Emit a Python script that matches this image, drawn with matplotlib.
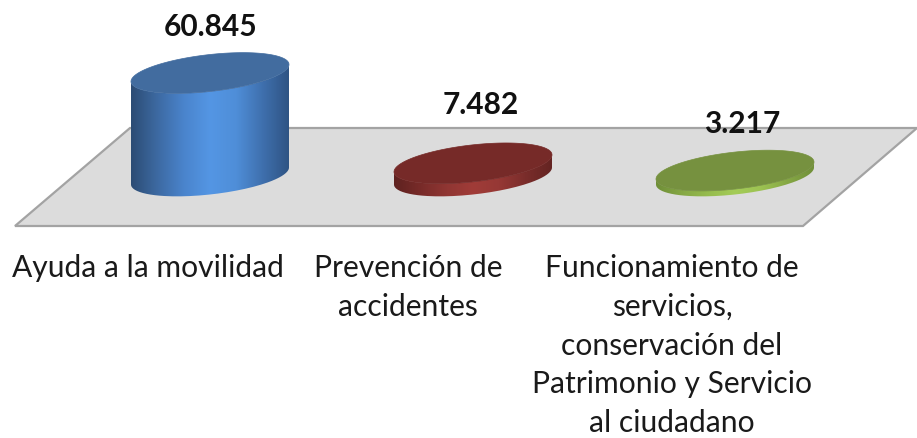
import numpy as np
import matplotlib.pyplot as plt
from matplotlib.colors import LinearSegmentedColormap
from matplotlib.patches import Polygon, PathPatch
from matplotlib.path import Path

# data
categories = ["Ayuda a la movilidad",
              "Prevención de\naccidentes",
              "Funcionamiento de\nservicios,\nconservación del\nPatrimonio y Servicio\nal ciudadano"]
values = [60845, 7482, 3217]
value_labels = ["60.845", "7.482", "3.217"]

# layout, in image pixels
W, H = 917, 439
centers = [210, 473, 735]
label_x = [148, 408, 672]
value_x = [211, 481, 742]
value_y = [27, 105, 124]
base_y = 177
rx, ry, tilt = 79, 18.5, 8.5
px_per_unit = 103 / 60845

side_colors = [["#2c4c74", "#3d6aa2", "#4a84cc", "#5496e4", "#4f8ed8", "#3f70ae", "#2f5484"],
               ["#5f2220", "#782b29", "#903633", "#a03c38", "#963835", "#7a2d2b", "#642422"],
               ["#6f8f38", "#86a845", "#96bc4e", "#a4cc58", "#9cc252", "#86a845", "#71903a"]]
top_colors = ["#426c9f", "#762a28", "#76913f"]

fig = plt.figure(figsize=(W / 100, H / 100), dpi=100)
ax = fig.add_axes([0, 0, 1, 1])
ax.set_xlim(0, W)
ax.set_ylim(H, 0)
ax.axis("off")

# floor
floor = Polygon([(15, 227), (803, 227), (917, 129), (130, 129)], closed=True,
                facecolor="#dcdcdc", edgecolor="#a3a3a3", linewidth=1.6, zorder=1)
ax.add_patch(floor)


def ellipse_xy(cx, cy, t):
    return cx + rx * np.cos(t), cy - ry * np.sin(t) - tilt * np.cos(t)


for cx, val, sc, tc in zip(centers, values, side_colors, top_colors):
    h = val * px_per_unit
    top_y = base_y - h

    # side wall: lower half of base ellipse + lower half of top ellipse
    t = np.linspace(np.pi, 2 * np.pi, 80)
    bx, by = ellipse_xy(cx, base_y, t)
    tx, ty = ellipse_xy(cx, top_y, t[::-1])
    pts = np.column_stack([np.r_[bx, tx], np.r_[by, ty]])
    clip = PathPatch(Path(np.vstack([pts, pts[0]])), transform=ax.transData,
                     facecolor="none", edgecolor="none")
    ax.add_patch(clip)
    cmap = LinearSegmentedColormap.from_list("side", sc)
    im = ax.imshow(np.linspace(0, 1, 256)[None, :], cmap=cmap, aspect="auto",
                   extent=(cx - rx, cx + rx, base_y + 30, top_y - 30), zorder=2)
    im.set_clip_path(clip)

    # top face
    t = np.linspace(0, 2 * np.pi, 160)
    ex, ey = ellipse_xy(cx, top_y, t)
    ax.fill(ex, ey, color=tc, zorder=3, linewidth=0.5)

ax.set_xlim(0, W)
ax.set_ylim(H, 0)

for x, y, s in zip(value_x, value_y, value_labels):
    ax.text(x, y, s, ha="center", va="center", family="Lato", fontsize=21.5,
            fontweight="bold", color="#111111", zorder=5)

for x, s in zip(label_x, categories):
    ax.text(x, 254, s, ha="center", va="top", family="Lato", fontsize=21.6,
            color="#1a1a1a", linespacing=1.47, zorder=5)

fig.savefig("out.png", dpi=100)
